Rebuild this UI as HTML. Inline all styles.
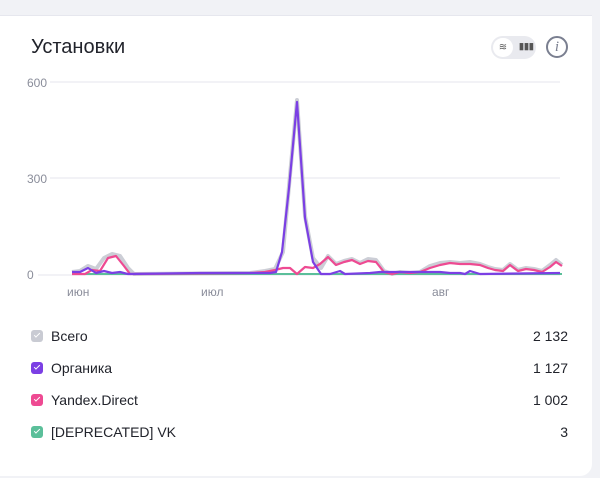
<!DOCTYPE html>
<html><head><meta charset="utf-8"><style>
html,body{margin:0;padding:0;width:600px;height:478px;background:#f1f2f6;overflow:hidden;font-family:"Liberation Sans",sans-serif;}
.card{position:absolute;left:0;top:15px;width:592px;height:460px;background:#fff;border-top:1px solid #e6e7ee;border-radius:0 0 12px 0;}
.title{position:absolute;left:31px;top:36px;font-size:20px;color:#21232b;}
.leg{position:absolute;left:31px;font-size:14px;color:#21232b;width:537px;}
.leg span.v{position:absolute;right:0;}
.cb{display:inline-block;width:12px;height:12px;border-radius:3px;vertical-align:-1px;margin-right:8px;position:relative;}
.cb:after{content:"";position:absolute;left:3px;top:3px;width:5px;height:2px;border-left:1.4px solid #fff;border-bottom:1.4px solid #fff;transform:rotate(-45deg);}
</style></head><body>
<div class="card"></div>
<div class="title">Установки</div>
<div style="position:absolute;left:491px;top:36px;width:45px;height:23px;border-radius:12px;background:#e9eaef;"></div>
<div style="position:absolute;left:493px;top:38px;width:20px;height:19px;border-radius:10px;background:#fff;font-size:10px;color:#555;text-align:center;line-height:19px;">≋</div>
<div style="position:absolute;left:519px;top:41px;font-size:9px;color:#555;font-weight:bold;">▮▮▮</div>
<div style="position:absolute;left:546px;top:36px;width:18px;height:18px;border:2px solid #7a7f90;border-radius:50%;color:#7a7f90;font-family:'Liberation Serif',serif;font-style:italic;font-size:15px;text-align:center;line-height:18px;">i</div>
<svg width="600" height="300" style="position:absolute;left:0;top:0" font-family="Liberation Sans" font-size="12" fill="#8a8d9a">
<line x1="50" y1="82" x2="560" y2="82" stroke="#e4e5ec"/>
<line x1="50" y1="178" x2="560" y2="178" stroke="#e4e5ec"/>
<line x1="38" y1="275" x2="560" y2="275" stroke="#e4e5ec"/>
<text x="27" y="87">600</text><text x="27" y="183">300</text><text x="27" y="279">0</text>
<text x="67" y="296">июн</text><text x="201" y="296">июл</text><text x="432" y="296">авг</text>
<polyline fill="none" stroke="#ccced6" stroke-width="4" stroke-linejoin="round" points="72,272 80,271 88,266 96,269 104,258 112,254 120,256 128,268 134,274 250,273 265,271 275,269 283,252 289,186 297,100 305,216 313,258 321,268 328,256 336,264 344,261 352,259 360,263 368,259 376,260 384,271 392,274 400,272 410,273 420,272 430,266 440,263 450,262 460,263 470,262 480,264 488,267 495,269 503,270 510,264 518,270 526,268 534,269 542,271 550,265 556,260 562,265"/>
<line x1="72" y1="274" x2="562" y2="274" stroke="#5bbf9a" stroke-width="2"/>
<polyline fill="none" stroke="#ee4a92" stroke-width="2.2" stroke-linejoin="round" points="72,274 85,274 92,270 100,271 108,258 116,256 124,266 130,274 250,273 265,272 275,270 283,268 290,268 297,274 305,267 313,268 320,264 328,257 336,265 344,262 352,260 360,264 368,261 376,262 384,272 392,274 400,272 410,273 420,272 430,268 440,265 450,263 460,264 470,264 480,265 488,268 495,270 503,271 510,265 518,271 526,269 534,270 542,272 550,267 556,262 562,266"/>
<polyline fill="none" stroke="#7b3fe4" stroke-width="2.2" stroke-linejoin="round" points="72,272 80,272 88,268 96,273 104,271 112,273 120,272 128,274 200,273 270,273 276,272 282,252 289,188 297,102 305,218 313,262 321,274 330,274 340,271 345,274 370,273 380,272 440,272 450,273 460,273 465,274 470,271 480,274 560,273"/>
</svg>
<div class="leg" style="top:328px"><i class="cb" style="background:#c9cbd3"></i>Всего<span class="v">2 132</span></div>
<div class="leg" style="top:360px"><i class="cb" style="background:#7b3fe4"></i>Органика<span class="v">1 127</span></div>
<div class="leg" style="top:392px"><i class="cb" style="background:#ee4a92"></i>Yandex.Direct<span class="v">1 002</span></div>
<div class="leg" style="top:424px"><i class="cb" style="background:#5bbf9a"></i>[DEPRECATED] VK<span class="v">3</span></div>
</body></html>
